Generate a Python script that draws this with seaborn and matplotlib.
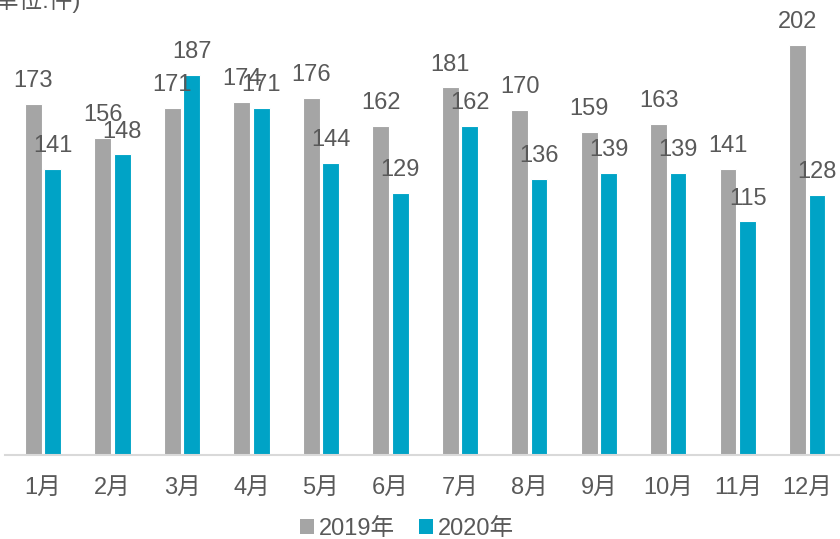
import matplotlib
matplotlib.use("Agg")
import matplotlib.pyplot as plt
import seaborn as sns
import pandas as pd
from matplotlib.patches import Patch

months = ["1月", "2月", "3月", "4月", "5月", "6月", "7月", "8月", "9月", "10月", "11月", "12月"]
series_names = ["2019年", "2020年"]
values_2019 = [173, 156, 171, 174, 176, 162, 181, 170, 159, 163, 141, 202]
values_2020 = [141, 148, 187, 171, 144, 129, 162, 136, 139, 139, 115, 128]
unit_label = "(单位:件)"

colors = {"2019年": "#A5A5A5", "2020年": "#00A3C6"}
text_color = "#595959"

df = pd.DataFrame({
    "month": months * 2,
    "year": [series_names[0]] * 12 + [series_names[1]] * 12,
    "value": values_2019 + values_2020,
})

sns.set_theme(style="white")
plt.rcParams["font.family"] = ["Liberation Sans", "Noto Sans CJK SC", "DejaVu Sans"]

fig = plt.figure(figsize=(8.4, 5.39), dpi=100)
ax = fig.add_axes([5 / 840, (539 - 455) / 539, 835 / 840, 455 / 539])

sns.barplot(data=df, x="month", y="value", hue="year", order=months,
            hue_order=series_names, palette=colors, saturation=1, width=0.56, gap=0.14,
            linewidth=0.8, edgecolor="white", ax=ax, legend=False)

for cont in ax.containers:
    ax.bar_label(cont, fmt="%d", padding=8.5, fontsize=17, color=text_color,
                 family=["Liberation Sans", "DejaVu Sans"])

ax.set_ylim(0, 224)
ax.set_xlim(-0.547, 11.47)
ax.set_xlabel("")
ax.set_ylabel("")
ax.set_yticks([])
for s in ["left", "right", "top"]:
    ax.spines[s].set_visible(False)
ax.spines["bottom"].set_color("#D9D9D9")
ax.spines["bottom"].set_linewidth(1.5)
ax.tick_params(axis="x", length=0, pad=16, labelsize=17, labelcolor=text_color)

handles = [Patch(facecolor=colors[n], edgecolor="none", label=n) for n in series_names]
leg = fig.legend(handles=handles, loc="center", bbox_to_anchor=(407 / 840, 10 / 539),
                 ncol=2, frameon=False, fontsize=17, handlelength=0.6, handleheight=0.6,
                 handletextpad=0.2, columnspacing=1.0, borderpad=0, labelcolor=text_color)

fig.text(81 / 840, 1 - 13 / 539, unit_label, ha="right", va="bottom", fontsize=17,
         color=text_color)

fig.savefig("out.png", dpi=100)
